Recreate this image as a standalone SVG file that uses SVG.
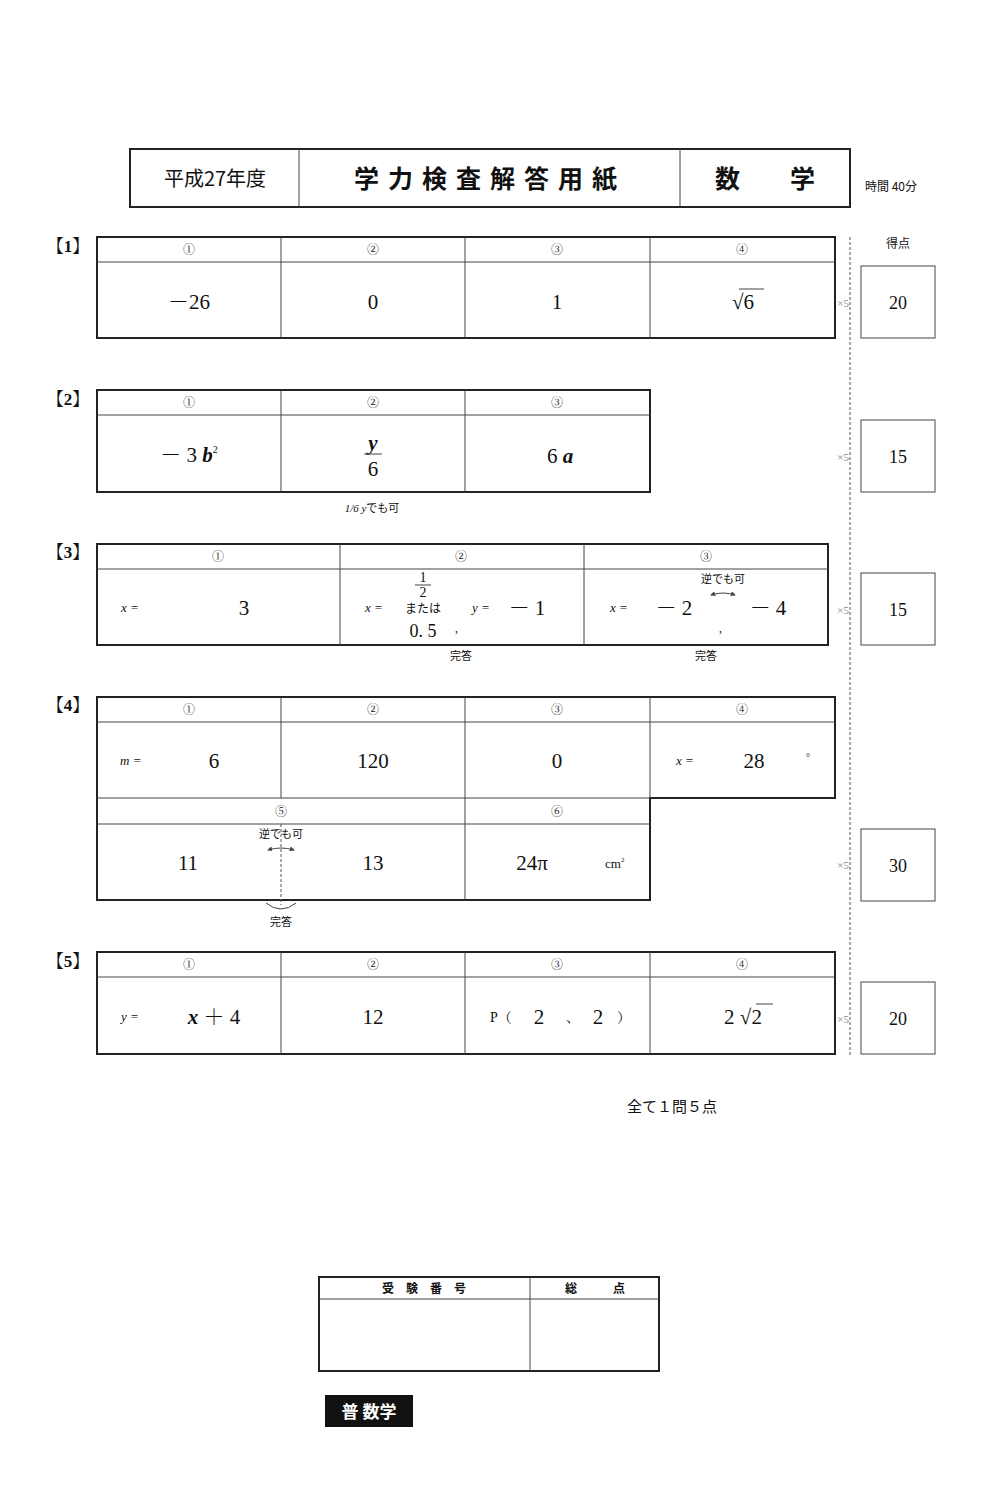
<svg xmlns="http://www.w3.org/2000/svg" width="1000" height="1500" viewBox="0 0 1000 1500">
<style>
.b{fill:none;stroke:#222;stroke-width:2}
.l{stroke:#444;stroke-width:1}
.d{stroke:#555;stroke-width:1;stroke-dasharray:3,2}
text{font-family:"Liberation Serif","Noto Serif CJK JP","Noto Sans CJK JP",serif;fill:#111}
.j{font-family:"Noto Sans CJK JP",sans-serif}
.c{font-size:12px;text-anchor:middle}
.a{font-size:21px;text-anchor:middle}
.s{font-size:13px}
.x{font-size:11px;fill:#888;text-anchor:end}
.sc{font-size:18px;text-anchor:middle}
.i{font-style:italic}
.lb{font-size:17px;font-weight:bold;text-anchor:middle}
</style>
<defs>
<marker id="ah" viewBox="0 0 6 6" refX="5" refY="3" markerWidth="5" markerHeight="5" orient="auto-start-reverse"><path d="M0 0 L6 3 L0 6 Z" fill="#444"/></marker>
</defs>
<rect width="1000" height="1500" fill="#fff"/>
<g id="header">
<rect class="b" x="130" y="149" width="720" height="58"/>
<line class="l" x1="299" y1="149" x2="299" y2="207"/><line class="l" x1="680" y1="149" x2="680" y2="207"/>
<text class="j" x="215" y="186" font-size="20" text-anchor="middle">平成27年度</text>
<text class="j" x="490" y="188" font-size="25" font-weight="bold" text-anchor="middle" letter-spacing="9">学力検査解答用紙</text>
<text class="j" x="765" y="188" font-size="25" font-weight="bold" text-anchor="middle" xml:space="preserve">数　　学</text>
<text class="j" x="865" y="191" font-size="12">時間 40分</text>
</g>
<g id="scores">
<line class="d" x1="850" y1="237" x2="850" y2="1055"/>
<text class="j" x="898" y="248" font-size="12" text-anchor="middle">得点</text>
<rect class="l" fill="none" x="861" y="266" width="74" height="72"/><text class="sc" x="898" y="309">20</text><text class="x" x="849" y="307">×5</text>
<rect class="l" fill="none" x="861" y="420" width="74" height="72"/><text class="sc" x="898" y="463">15</text><text class="x" x="849" y="461">×5</text>
<rect class="l" fill="none" x="861" y="573" width="74" height="72"/><text class="sc" x="898" y="616">15</text><text class="x" x="849" y="614">×5</text>
<rect class="l" fill="none" x="861" y="829" width="74" height="72"/><text class="sc" x="898" y="872">30</text><text class="x" x="849" y="869">×5</text>
<rect class="l" fill="none" x="861" y="982" width="74" height="72"/><text class="sc" x="898" y="1025">20</text><text class="x" x="849" y="1023">×5</text>
</g>
<g id="q1">
<text class="lb" x="68" y="252">【1】</text>
<rect class="b" x="97" y="237" width="738" height="101"/>
<line class="l" x1="97" y1="262" x2="835" y2="262"/>
<line class="l" x1="281" y1="237" x2="281" y2="338"/><line class="l" x1="465" y1="237" x2="465" y2="338"/><line class="l" x1="650" y1="237" x2="650" y2="338"/>
<text class="c" x="189" y="254">①</text><text class="c" x="373" y="254">②</text><text class="c" x="557" y="254">③</text><text class="c" x="742" y="254">④</text>
<text class="a" x="189" y="309">－26</text><text class="a" x="373" y="309">0</text><text class="a" x="557" y="309">1</text>
<text class="a" x="743" y="309">√6</text><line class="l" x1="739" y1="289" x2="764" y2="289"/>
</g>
<g id="q2">
<text class="lb" x="68" y="405">【2】</text>
<rect class="b" x="97" y="390" width="553" height="102"/>
<line class="l" x1="97" y1="415" x2="650" y2="415"/>
<line class="l" x1="281" y1="390" x2="281" y2="492"/><line class="l" x1="465" y1="390" x2="465" y2="492"/>
<text class="c" x="189" y="407">①</text><text class="c" x="373" y="407">②</text><text class="c" x="557" y="407">③</text>
<text class="a" x="189" y="462">－ 3 <tspan class="i" font-weight="bold">b</tspan><tspan font-size="10" dy="-9">2</tspan></text>
<text class="a i" x="373" y="450" font-weight="bold">y</text><line class="l" x1="364" y1="454" x2="382" y2="454"/><text class="a" x="373" y="476">6</text>
<text class="a" x="560" y="463">6 <tspan class="i" font-weight="bold">a</tspan></text>
<text x="372" y="512" font-size="11" text-anchor="middle"><tspan class="i">1/6 y</tspan><tspan class="j">でも可</tspan></text>
</g>
<g id="q3">
<text class="lb" x="68" y="558">【3】</text>
<rect class="b" x="97" y="544" width="731" height="101"/>
<line class="l" x1="97" y1="569" x2="828" y2="569"/>
<line class="l" x1="340" y1="544" x2="340" y2="645"/><line class="l" x1="584" y1="544" x2="584" y2="645"/>
<text class="c" x="218" y="561">①</text><text class="c" x="461" y="561">②</text><text class="c" x="706" y="561">③</text>
<text class="i" x="121" y="612" font-size="13">x =</text><text class="a" x="244" y="615">3</text>
<text class="i" x="365" y="612" font-size="13">x =</text>
<text x="423" y="582" font-size="14" text-anchor="middle">1</text><line class="l" x1="415" y1="585" x2="431" y2="585"/><text x="423" y="597" font-size="14" text-anchor="middle">2</text>
<text class="j" x="423" y="613" font-size="12" text-anchor="middle">または</text>
<text x="423" y="637" font-size="18" text-anchor="middle">0. 5</text><text x="455" y="632" font-size="12">,</text>
<text class="i" x="472" y="612" font-size="13">y =</text><text class="a" x="527" y="615">－ 1</text>
<text class="j" x="461" y="660" font-size="11" text-anchor="middle">完答</text>
<text class="i" x="610" y="612" font-size="13">x =</text><text class="a" x="674" y="615">－ 2</text><text class="a" x="768" y="615">－ 4</text>
<text class="j" x="723" y="583" font-size="11" text-anchor="middle">逆でも可</text>
<path d="M711 595 Q723 591 735 595" fill="none" stroke="#444" marker-start="url(#ah)" marker-end="url(#ah)"/><text x="719" y="632" font-size="12">,</text>
<text class="j" x="706" y="660" font-size="11" text-anchor="middle">完答</text>
</g>
<g id="q4">
<text class="lb" x="68" y="711">【4】</text>
<path class="b" d="M97 697 H835 V798 H650 V900 H97 Z"/>
<line class="l" x1="97" y1="722" x2="835" y2="722"/><line class="l" x1="97" y1="798" x2="650" y2="798"/><line class="l" x1="97" y1="824" x2="650" y2="824"/>
<line class="l" x1="281" y1="697" x2="281" y2="798"/><line class="l" x1="465" y1="697" x2="465" y2="900"/><line class="l" x1="650" y1="697" x2="650" y2="798"/>
<line class="d" x1="281" y1="824" x2="281" y2="905"/>
<text class="c" x="189" y="714">①</text><text class="c" x="373" y="714">②</text><text class="c" x="557" y="714">③</text><text class="c" x="742" y="714">④</text>
<text class="i" x="120" y="765" font-size="13">m =</text><text class="a" x="214" y="768">6</text>
<text class="a" x="373" y="768">120</text><text class="a" x="557" y="768">0</text>
<text class="i" x="676" y="765" font-size="13">x =</text><text class="a" x="754" y="768">28</text><text x="806" y="761" font-size="10">°</text>
<text class="c" x="281" y="816">⑤</text><text class="c" x="557" y="816">⑥</text>
<text class="j" x="281" y="838" font-size="11" text-anchor="middle">逆でも可</text>
<path d="M268 850 Q281 846 294 850" fill="none" stroke="#444" marker-start="url(#ah)" marker-end="url(#ah)"/>
<text class="a" x="188" y="870">11</text><text class="a" x="373" y="870">13</text>
<text class="a" x="532" y="870">24π</text><text x="605" y="868" font-size="13">cm<tspan font-size="7" dy="-6">2</tspan></text>
<path d="M266 903 Q281 915 296 903" fill="none" stroke="#444"/>
<text class="j" x="281" y="926" font-size="11" text-anchor="middle">完答</text>
</g>
<g id="q5">
<text class="lb" x="68" y="967">【5】</text>
<rect class="b" x="97" y="952" width="738" height="102"/>
<line class="l" x1="97" y1="977" x2="835" y2="977"/>
<line class="l" x1="281" y1="952" x2="281" y2="1054"/><line class="l" x1="465" y1="952" x2="465" y2="1054"/><line class="l" x1="650" y1="952" x2="650" y2="1054"/>
<text class="c" x="189" y="969">①</text><text class="c" x="373" y="969">②</text><text class="c" x="557" y="969">③</text><text class="c" x="742" y="969">④</text>
<text class="i" x="121" y="1021" font-size="13">y =</text><text class="a" x="214" y="1024"><tspan class="i" font-weight="bold">x</tspan> ＋ 4</text>
<text class="a" x="373" y="1024">12</text>
<text x="490" y="1022" font-size="14">P（</text><text class="a" x="539" y="1024">2</text><text x="566" y="1022" font-size="14">、</text><text class="a" x="598" y="1024">2</text><text x="617" y="1022" font-size="14">）</text>
<text class="a" x="743" y="1024">2 √2</text><line class="l" x1="756" y1="1004" x2="773" y2="1004"/>
</g>
<text class="j" x="672" y="1112" font-size="15" text-anchor="middle">全て１問５点</text>
<g id="examno">
<rect class="b" x="319" y="1277" width="340" height="94"/>
<line class="l" x1="319" y1="1299" x2="659" y2="1299"/><line class="l" x1="530" y1="1277" x2="530" y2="1371"/>
<text class="j" x="424" y="1293" font-size="12" font-weight="bold" text-anchor="middle" xml:space="preserve">受　験　番　号</text>
<text class="j" x="595" y="1293" font-size="12" font-weight="bold" text-anchor="middle" xml:space="preserve">総　　　点</text>
</g>
<g id="tag">
<rect x="325" y="1395" width="88" height="32" fill="#111"/>
<text class="j" x="369" y="1418" font-size="17" font-weight="bold" text-anchor="middle" style="fill:#fff">普 数学</text>
</g>
</svg>
